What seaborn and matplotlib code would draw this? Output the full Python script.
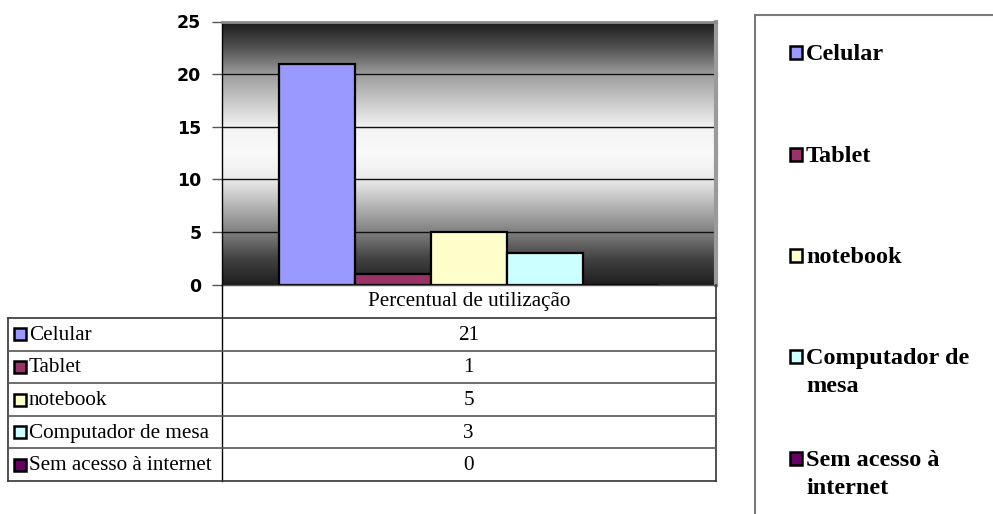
import numpy as np
import pandas as pd
import matplotlib
matplotlib.use("Agg")
import matplotlib.pyplot as plt
from matplotlib.colors import LinearSegmentedColormap
from matplotlib.patches import Rectangle
import seaborn as sns

# Data
devices = ["Celular", "Tablet", "notebook", "Computador de mesa", "Sem acesso à internet"]
legend_labels = ["Celular", "Tablet", "notebook", "Computador de\nmesa", "Sem acesso à\ninternet"]
usage = [21, 1, 5, 3, 0]
group = "Percentual de utilização"
colors = ["#9999FF", "#993366", "#FFFFCC", "#CCFFFF", "#660066"]
y_ticks = [0, 5, 10, 15, 20, 25]

df = pd.DataFrame({"grupo": [group] * len(devices), "dispositivo": devices, "valor": usage})

W, H = 993, 514
fig = plt.figure(figsize=(W / 100, H / 100), dpi=100)
fig.patch.set_facecolor("white")

# plot area, in pixels
px_l, px_r, px_t, px_b = 221.5, 716, 21.5, 284.5
ax = fig.add_axes([px_l / W, 1 - px_b / H, (px_r - px_l) / W, (px_b - px_t) / H])

sns.barplot(data=df, x="grupo", y="valor", hue="dispositivo", hue_order=devices,
            palette=colors, saturation=1, width=0.768, edgecolor="black",
            linewidth=1.6, legend=False, ax=ax, zorder=2)

# dark-light-dark vertical gradient behind the bars
stops = [(0.0, 0.12), (0.1, 0.26), (0.2, 0.50), (0.4, 0.92), (0.5, 0.98),
         (0.6, 0.95), (0.8, 0.62), (0.9, 0.33), (1.0, 0.11)]
cmap = LinearSegmentedColormap.from_list("bg", [(p, (g, g, g)) for p, g in stops])
grad = np.linspace(0, 1, 256).reshape(-1, 1)
ax.imshow(grad, extent=[-0.5, 0.5, 0, 25], origin="lower", aspect="auto",
          cmap=cmap, zorder=0, interpolation="bilinear")

ax.set_xlim(-0.5, 0.5)
ax.set_ylim(0, 25)
ax.set_yticks(y_ticks, labels=[str(v) for v in y_ticks],
              fontfamily="DejaVu Sans", fontweight="bold", fontsize=12.5)
ax.yaxis.grid(True, color="#111111", linewidth=1.0)
for gl in ax.get_ygridlines():
    gl.set_zorder(1)
ax.set_xticks([])
ax.set_xlabel("")
ax.set_ylabel("")
ax.tick_params(axis="y", length=7, width=1, color="#555555", pad=7.5)
ax.spines["left"].set_color("black")
ax.spines["left"].set_linewidth(1.0)
ax.spines["bottom"].set_color("#555555")
ax.spines["bottom"].set_linewidth(1.0)
ax.spines["top"].set_color("#8a8a8a")
ax.spines["top"].set_linewidth(2.0)
ax.spines["right"].set_color("#9a9a9a")
ax.spines["right"].set_linewidth(3.0)

# data table and legend, drawn in pixel coordinates
ov = fig.add_axes([0, 0, 1, 1])
ov.set_xlim(0, W)
ov.set_ylim(H, 0)
ov.axis("off")
ov.patch.set_alpha(0)

serif = "Liberation Serif"
tab_l, tab_r = 8, 716
head_b = 318
row_h = 32.6
n = len(devices)
tab_b = head_b + n * row_h
line_c = "#333333"

ov.plot([px_l, px_l], [px_b, tab_b], color="black", lw=1.0)
ov.plot([tab_r, tab_r], [px_b, tab_b], color=line_c, lw=1.2)
ov.plot([tab_l, tab_l], [head_b, tab_b], color=line_c, lw=1.2)
for i in range(n + 1):
    y = head_b + i * row_h
    ov.plot([tab_l, tab_r], [y, y], color="#555555" if 0 < i < n else line_c, lw=1.2)

cx = (px_l + tab_r) / 2
ov.text(cx, (px_b + head_b) / 2, group, ha="center", va="center",
        family=serif, fontsize=15.2)
for i, (name, val, col) in enumerate(zip(devices, usage, colors)):
    yc = head_b + (i + 0.5) * row_h
    ov.add_patch(Rectangle((14, yc - 6), 12, 12, facecolor=col,
                           edgecolor="black", lw=1.8))
    ov.text(29, yc + 1, name, ha="left", va="center", family=serif, fontsize=15.2)
    ov.text(cx, yc + 1, str(val), ha="center", va="center", family=serif, fontsize=15.2)

# legend box
ov.plot([754.5, 754.5], [14.5, H + 5], color="#7a7a7a", lw=1.5)
ov.plot([754.5, W + 5], [14.5, 14.5], color="#7a7a7a", lw=1.5)
leg_y = [52, 154, 255, 356, 458]
for lab, col, yc in zip(legend_labels, colors, leg_y):
    ov.add_patch(Rectangle((789.5, yc - 6.5), 12.5, 13, facecolor=col,
                           edgecolor="black", lw=1.8))
    for k, part in enumerate(lab.split("\n")):
        ov.text(806, yc + 8 + k * 28, part, ha="left", va="baseline", family=serif,
                fontweight="bold", fontsize=17.5)

fig.savefig("out.png", dpi=100, facecolor="white")
